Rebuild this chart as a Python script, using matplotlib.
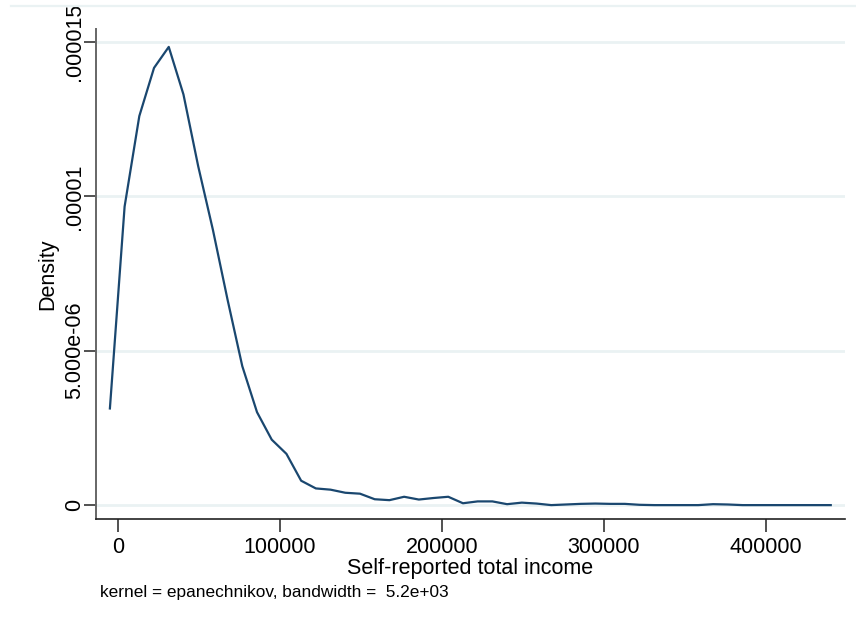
import matplotlib.pyplot as plt
from matplotlib.lines import Line2D

plt.rcParams["font.family"] = ["Liberation Sans", "DejaVu Sans"]

# kdensity estimate on a 50-point grid
income = [
    -5000, 4080, 13160, 22240, 31330, 40410, 49490, 58570, 67650, 76730,
    85820, 94900, 103980, 113060, 122140, 131220, 140310, 149390, 158470, 167550,
    176630, 185710, 194800, 203880, 212960, 222040, 231120, 240200, 249290, 258370,
    267450, 276530, 285610, 294690, 303780, 312860, 321940, 331020, 340100, 349180,
    358270, 367350, 376430, 385510, 394590, 403670, 412760, 421840, 430920, 440000,
]
density = [
    3.13, 9.67, 12.60, 14.16, 14.84, 13.30, 10.98, 8.92, 6.65, 4.50,
    3.01, 2.12, 1.66, 0.79, 0.54, 0.50, 0.40, 0.37, 0.19, 0.16,
    0.27, 0.18, 0.23, 0.27, 0.06, 0.12, 0.12, 0.03, 0.08, 0.05,
    0.00, 0.02, 0.04, 0.05, 0.04, 0.04, 0.01, 0.00, 0.00, 0.00,
    0.00, 0.03, 0.02, 0.00, 0.00, 0.00, 0.00, 0.00, 0.00, 0.00,
]
density = [d * 1e-6 for d in density]

xticks = [0, 100000, 200000, 300000, 400000]
yticks = [0, 5e-6, 1e-5, 1.5e-5]
ylabels = ["0", "5.000e-06", ".00001", ".000015"]

W, H = 856, 626
fig = plt.figure(figsize=(W / 100, H / 100), dpi=100)
ax = fig.add_axes([96 / W, 1 - 519 / H, (845 - 96) / W, (519 - 29) / H])

grid_c = "#eaf2f3"
for y in yticks:
    ax.axhline(y, color=grid_c, lw=2.0, zorder=1)
fig.add_artist(Line2D([11 / W, 1], [1 - 6 / H, 1 - 6 / H], color=grid_c, lw=1.6))

ax.plot(income, density, color="#1a476f", lw=1.6, zorder=3)

ax.set_xlim(-13580, 448800)
ax.set_ylim(-0.45e-6, 15.42e-6)
ax.set_xticks(xticks)
ax.set_xticklabels([str(v) for v in xticks], fontsize=15.5)
ax.set_yticks(yticks)
ax.set_yticklabels(ylabels, fontsize=15.5, rotation=90, va="center")
ax.tick_params(axis="both", length=9, width=1.2, color="#333333")
ax.tick_params(axis="x", pad=4)
ax.tick_params(axis="y", pad=-1)

for side in ("top", "right"):
    ax.spines[side].set_visible(False)
ax.spines["left"].set_color("#666666")
ax.spines["left"].set_linewidth(1.4)
ax.spines["bottom"].set_color("#222222")
ax.spines["bottom"].set_linewidth(1.2)

ax.set_xlabel("Self-reported total income", fontsize=15.5, labelpad=0)
ax.set_ylabel("Density", fontsize=15.5, labelpad=4)

fig.text(100 / W, 1 - 593 / H, "kernel = epanechnikov, bandwidth =  5.2e+03",
         fontsize=12.4, va="center", ha="left")

fig.savefig("out.png", dpi=100, facecolor="white")
